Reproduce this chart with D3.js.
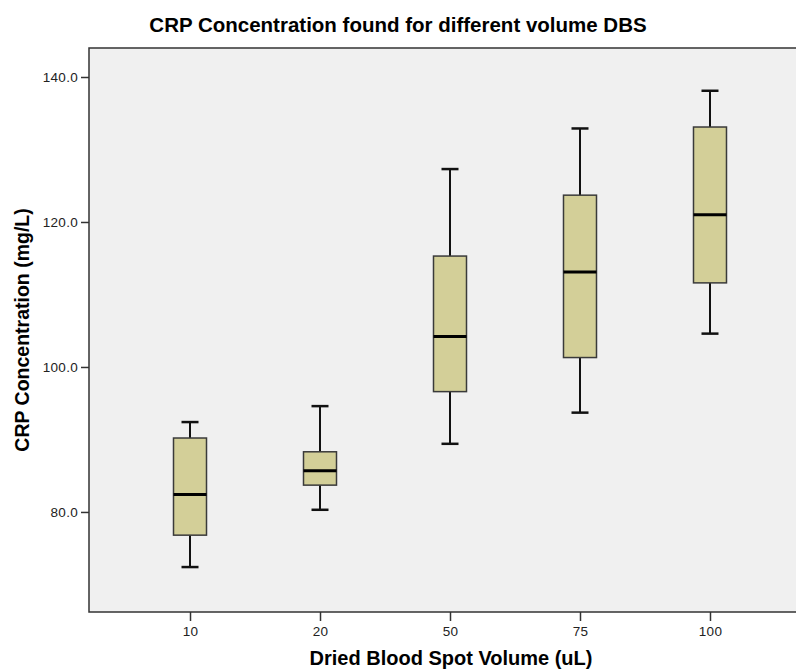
<!DOCTYPE html>
<html>
<head>
<meta charset="utf-8">
<script src="https://cdn.jsdelivr.net/npm/d3@7"></script>
<style>
  body { margin: 0; background: #fff; }
  text { font-family: "Liberation Sans", Arial, sans-serif; }
</style>
</head>
<body>
<div id="chart"></div>
<script>
var width = 796;
var height = 671;
var margin = {top: 48, bottom: 59, left: 89, right: -15};

// data
var volumes = ["10", "20", "50", "75", "100"];
var whiskerLow = [72.4, 80.3, 89.4, 93.7, 104.6];
var q1 = [76.8, 83.7, 96.6, 101.3, 111.6];
var medians = [82.4, 85.7, 104.2, 113.1, 121.0];
var q3 = [90.2, 88.3, 115.3, 123.7, 133.1];
var whiskerHigh = [92.4, 94.6, 127.3, 132.9, 138.1];
var yTicks = [80, 100, 120, 140];

var boxes = volumes.map(function(v, i){
    return {vol: v, lo: whiskerLow[i], q1: q1[i], med: medians[i], q3: q3[i], hi: whiskerHigh[i]};
});

var svg = d3.select("#chart")
    .append("svg")
        .attr("width", width)
        .attr("height", height);

var w = width - margin.left - margin.right;
var h = height - margin.top - margin.bottom;

var g = svg.append("g")
    .attr("transform", "translate(" + margin.left + "," + margin.top + ")");

var xscale = d3.scalePoint()
    .domain(volumes)
    .range([0, w])
    .padding(0.777);
var yscale = d3.scaleLinear()
    .domain([66.2, 144.0])
    .range([h, 0]);

// plot background
g.append("rect")
    .attr("width", w)
    .attr("height", h)
    .attr("fill", "#f0f0f0");

var boxW = 33;
var capW = 17;

var box = g.selectAll(".box")
    .data(boxes)
    .enter().append("g")
    .attr("class", "box")
    .attr("transform", function(d){ return "translate(" + xscale(d.vol) + ",0)"; });

// whiskers
box.append("line")
    .attr("y1", function(d){ return yscale(d.hi); })
    .attr("y2", function(d){ return yscale(d.q3); })
    .attr("stroke", "#111").attr("stroke-width", 2);
box.append("line")
    .attr("y1", function(d){ return yscale(d.q1); })
    .attr("y2", function(d){ return yscale(d.lo); })
    .attr("stroke", "#111").attr("stroke-width", 2);
box.append("line")
    .attr("x1", -capW / 2).attr("x2", capW / 2)
    .attr("y1", function(d){ return yscale(d.hi); })
    .attr("y2", function(d){ return yscale(d.hi); })
    .attr("stroke", "#111").attr("stroke-width", 2.5);
box.append("line")
    .attr("x1", -capW / 2).attr("x2", capW / 2)
    .attr("y1", function(d){ return yscale(d.lo); })
    .attr("y2", function(d){ return yscale(d.lo); })
    .attr("stroke", "#111").attr("stroke-width", 2.5);

// boxes
box.append("rect")
    .attr("x", -boxW / 2)
    .attr("width", boxW)
    .attr("y", function(d){ return yscale(d.q3); })
    .attr("height", function(d){ return yscale(d.q1) - yscale(d.q3); })
    .attr("fill", "#d3cf98")
    .attr("stroke", "#3a3a3a")
    .attr("stroke-width", 1.5);

// medians
box.append("line")
    .attr("x1", -boxW / 2).attr("x2", boxW / 2)
    .attr("y1", function(d){ return yscale(d.med); })
    .attr("y2", function(d){ return yscale(d.med); })
    .attr("stroke", "#000").attr("stroke-width", 3);

// frame (left, top, bottom)
g.append("path")
    .attr("d", "M" + (w + 20) + ",0H0V" + h + "H" + (w + 20))
    .attr("fill", "none")
    .attr("stroke", "#333")
    .attr("stroke-width", 1.5);

// axes
var x_axis = d3.axisBottom(xscale).tickSize(9).tickPadding(5);
var xg = g.append("g")
    .attr("transform", "translate(0," + h + ")")
    .call(x_axis);
xg.select(".domain").remove();

var y_axis = d3.axisLeft(yscale)
    .tickValues(yTicks)
    .tickFormat(d3.format(".1f"))
    .tickSize(8).tickPadding(3);
var yg = g.append("g").call(y_axis);
yg.select(".domain").remove();

[xg, yg].forEach(function(a){
    a.selectAll(".tick line").attr("stroke", "#333").attr("stroke-width", 1.5);
    a.selectAll(".tick text")
        .attr("fill", "#222")
        .style("font-size", "13.5px")
        .style("letter-spacing", "0.3px")
        .style("font-family", "'Liberation Sans', Arial, sans-serif");
});

// titles
svg.append("text")
    .attr("x", 398)
    .attr("y", 32)
    .attr("text-anchor", "middle")
    .style("font-size", "20.5px")
    .style("font-weight", "bold")
    .text("CRP Concentration found for different volume DBS");

svg.append("text")
    .attr("x", 451)
    .attr("y", 665)
    .attr("text-anchor", "middle")
    .style("font-size", "20px")
    .style("font-weight", "bold")
    .text("Dried Blood Spot Volume (uL)");

svg.append("text")
    .attr("transform", "translate(29," + (margin.top + h / 2) + ") rotate(-90)")
    .attr("text-anchor", "middle")
    .style("font-size", "19.5px")
    .style("font-weight", "bold")
    .text("CRP Concentration (mg/L)");
</script>
</body>
</html>
